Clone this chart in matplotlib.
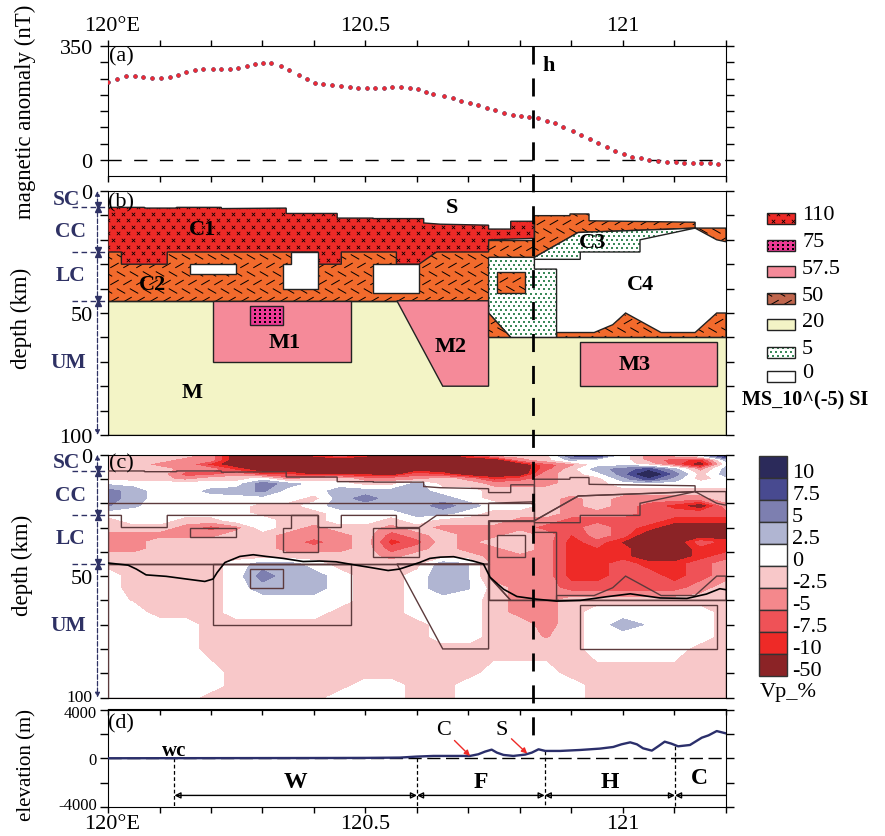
import numpy as np
import matplotlib
matplotlib.use("Agg")
import matplotlib.pyplot as plt
from matplotlib.patches import Polygon, Rectangle
from matplotlib.collections import LineCollection
from matplotlib.transforms import ScaledTranslation

plt.rcParams["font.family"] = ["Liberation Serif", "DejaVu Serif"]

W, H = 885, 837
LEFT, RIGHT = 108, 726
NAVY = "#2E3164"

# (a) magnetic anomaly, lon is degrees east of 120
mag_lon = [0, .017, .034, .052, .068, .086, .102, .120, .136, .152, .169, .185, .204, .220, .236, .252,
           .270, .285, .301, .317, .336, .352, .370, .386, .402, .418, .435, .453, .469, .486, .502, .518,
           .535, .551, .569, .586, .602, .618, .632, .652, .669, .685, .702, .719, .735, .751, .769, .786,
           .802, .818, .834, .852, .868, .884, .902, .918, .935, .951, .968, .985, 1.001, 1.018, 1.034,
           1.051, 1.067, 1.085, 1.102, 1.118, 1.135, 1.151, 1.168, 1.185]
mag_nt = [238, 249, 257, 257, 256, 253, 253, 256, 262, 270, 276, 279, 279, 279, 280, 282,
          290, 295, 299, 298, 288, 276, 261, 247, 237, 232, 230, 227, 225, 222, 220, 220,
          221, 223, 223, 221, 217, 208, 203, 195, 189, 182, 176, 167, 159, 152, 144, 139,
          136, 131, 127, 120, 112, 100, 87, 76, 64, 51, 39, 27, 17, 10, 4,
          -1, -4, -6, -8, -9, -10, -10, -11, -12]

# (b) model blocks, (lon east of 120, depth km)
mantle_block = [(0, 45), (.739, 45), (.739, 60), (1.2, 60), (1.2, 100), (0, 100)]
c2_left = [(0, 20), (.828, 20), (.828, 27.2), (.739, 27.2), (.739, 45), (0, 45)]
c2_right = [(.828, 10.1), (.897, 10.1), (.897, 9.4), (.934, 9.4), (.934, 12.2), (1.14, 12.8), (1.14, 15.2),
            (1.2, 15.2), (1.2, 20.8), (1.182, 20), (1.14, 15.2), (.913, 17), (.828, 27.2)]
c2_lower = [(.871, 60), (.871, 58), (.944, 58), (.98, 54.8), (1.005, 50), (1.074, 58), (1.14, 58),
            (1.182, 50), (1.2, 50), (1.2, 60)]
c2_box = [(.756, 33), (.81, 33), (.81, 42), (.756, 42)]
c2_wedge = [(.739, 50), (.782, 60), (.739, 60)]
c1_block = [(0, 6.7), (.071, 6.7), (.071, 7), (.133, 7), (.133, 6.7), (.22, 6.7), (.22, 7.2), (.346, 7),
            (.346, 9.2), (.445, 9.2), (.445, 11.1), (.515, 11.1), (.515, 11.3), (.613, 11.3), (.613, 13.1),
            (.645, 13.6), (.739, 14), (.739, 15.6), (.782, 15.6), (.782, 12.4), (.828, 12.4), (.828, 19.4),
            (.739, 20), (.739, 25), (.638, 25), (.604, 30), (.56, 30), (.56, 25), (.453, 25), (.453, 30),
            (.408, 30), (.408, 25), (.115, 25), (.115, 30), (.026, 30), (.026, 25), (0, 25)]
hole_a = [(.16, 30), (.249, 30), (.249, 34), (.16, 34)]
hole_b = [(.339, 30), (.356, 30), (.356, 25), (.408, 25), (.408, 40), (.339, 40)]
hole_c = [(.515, 30), (.604, 30), (.604, 42), (.515, 42)]
m1_block = [(.204, 45), (.471, 45), (.471, 70), (.204, 70)]
m1_core = [(.275, 47), (.339, 47), (.339, 55), (.275, 55)]
m2_block = [(.561, 45), (.65, 80), (.739, 80), (.739, 45)]
m3_block = [(.917, 62), (1.183, 62), (1.183, 80), (.917, 80)]
c3_block = [(.828, 27.2), (.913, 17), (1.098, 15.6), (1.14, 15.2), (1.033, 20), (1.033, 25), (.917, 25),
            (.917, 28), (.828, 28)]
dotted_block = [(.739, 27.2), (.828, 27.2), (.828, 32), (.871, 32), (.871, 60), (.782, 60), (.739, 50)]

# (c) velocity perturbation, read on a coarse grid
P, Q = -1.2, 1.2  # -2.5..0 pink, 0..2.5 white
s, m, r, d = -3.7, -6.2, -8.7, -13
L, B, N, K = 3.7, 6.2, 8.7, 13
vp_lon = [i * .05 for i in range(25)]
vp_depth = [0, 2, 4, 6, 8, 10, 12, 15, 18, 21, 24, 27, 30, 33, 36, 39, 42, 45, 50, 55, 60, 65, 70, 75, 80, 90, 95, 100]
vp_grid = [
    [P, P, P, P, s, d, d, d, r, s, r, d, d, d, m, P, P, P, N, K, Q, s, P, L, K],
    [P, P, P, s, s, d, d, d, d, d, d, d, d, d, d, d, s, P, L, Q, Q, s, m, r, L],
    [P, P, s, s, r, d, d, d, d, d, d, d, d, d, d, d, d, m, s, Q, Q, P, m, d, Q],
    [P, P, P, s, s, r, d, d, d, d, d, d, d, d, d, d, d, m, P, L, B, N, L, s, L],
    [P, P, P, m, m, s, -8, -8, -11, -10, -11, d, m, r, d, d, d, s, P, Q, B, K, B, P, L],
    [P, P, P, s, P, P, Q, s, P, P, s, s, s, P, s, r, m, s, P, P, L, N, L, P, Q],
    [2, 1.6, Q, Q, Q, Q, 6.5, L, Q, Q, P, P, L, P, P, s, s, s, P, P, Q, Q, Q, Q, Q],
    [B, L, Q, Q, 3.1, L, 5.5, Q, Q, L, L, L, L, Q, Q, P, P, P, P, P, P, P, P, P, P],
    [B, L, Q, Q, Q, Q, Q, Q, P, L, B, L, L, L, Q, P, P, P, s, P, s, s, s, s, P],
    [5.2, 2.9, Q, Q, Q, Q, P, P, Q, L, L, L, L, B, L, Q, Q, P, s, P, s, m, r, d, s],
    [Q, Q, Q, Q, Q, Q, P, P, P, Q, Q, Q, L, L, Q, P, P, P, s, s, s, m, m, m, m],
    [P, Q, Q, P, P, Q, Q, P, P, Q, Q, P, Q, P, P, P, s, s, m, m, m, m, r, r, r],
    [P, P, P, s, m, s, Q, P, s, P, P, s, P, s, s, s, s, m, m, s, m, r, d, d, d],
    [s, s, s, s, s, P, P, s, s, s, P, m, s, P, s, s, P, s, -7.6, s, m, d, d, d, d],
    [s, s, P, P, P, P, P, s, m, s, P, r, m, P, s, P, P, s, r, m, -10.5, d, d, m, r],
    [s, s, P, P, P, P, P, s, s, s, P, m, s, P, s, s, P, s, r, -8, r, d, d, r, r],
    [P, P, P, P, P, P, P, P, P, P, P, s, P, P, P, s, s, s, r, r, r, d, d, r, m],
    [P, P, P, P, P, Q, L, L, Q, P, P, P, P, 4, 2.6, s, s, s, r, r, m, r, r, m, s],
    [Q, P, P, P, P, Q, B, L, L, Q, P, P, Q, 4, 2.6, s, s, s, r, r, m, m, r, m, s],
    [Q, P, P, P, P, Q, L, L, L, Q, P, P, Q, 4, 2.6, P, s, s, m, m, m, m, m, s, P],
    [Q, -.3, P, P, P, Q, Q, Q, Q, Q, P, P, Q, Q, Q, P, s, s, P, P, P, P, P, P, P],
    [Q, Q, P, P, P, Q, Q, Q, Q, P, P, P, Q, Q, Q, P, s, s, P, Q, Q, Q, Q, Q, P],
    [Q, Q, Q, Q, P, P, P, P, P, P, P, P, P, Q, Q, P, P, s, P, Q, L, 2.2, Q, Q, P],
    [Q, Q, Q, Q, P, P, P, P, P, P, P, P, P, Q, Q, P, P, -2.8, P, Q, Q, Q, Q, Q, P],
    [Q, Q, Q, Q, P, P, P, P, P, P, P, P, P, P, P, P, P, P, P, Q, Q, Q, Q, P, P],
    [Q, Q, Q, Q, Q, P, P, P, P, P, P, P, P, P, P, Q, Q, Q, P, P, P, P, P, P, P],
    [Q, Q, Q, Q, Q, P, P, P, P, P, Q, Q, P, P, Q, Q, Q, Q, Q, P, P, P, P, P, P],
    [Q, Q, Q, Q, P, P, P, P, P, Q, Q, Q, P, P, Q, Q, Q, Q, Q, P, P, P, P, P, P],
]
vp_levels = [-50, -10, -7.5, -5, -2.5, 0, 2.5, 5, 7.5, 10, 50]
vp_colors = ["#8B2326", "#EE2A27", "#EF5257", "#F4888C", "#F8C8C9", "#FFFFFF", "#B0B5D2", "#7D7FB0", "#484A90", "#2B2A5A"]
vp_labels = ["10", "7.5", "5", "2.5", "0", "-2.5", "-5", "-7.5", "-10", "-50"]

moho_lon = [0, .039, .055, .074, .113, .152, .188, .204, .212, .227, .256, .282, .307, .34, .379, .411, .443, .476,
            .508, .544, .566, .605, .625, .645, .671, .709, .729, .742, .768, .794, .832, .871, .917, .968, 1.014,
            1.072, 1.124, 1.162, 1.188, 1.2]
moho_dep = [44.6, 45.5, 47.1, 49.5, 50.1, 51.2, 52.2, 51.2, 48.5, 44.4, 41.9, 41.2, 41.9, 42.7, 44, 43.8, 44.1, 45.3,
            46.4, 47.7, 47.1, 44.4, 42.7, 42.2, 42, 43.8, 45, 50.5, 55.4, 58.4, 59.5, 60.3, 60, 58.5, 57.3,
            59, 59.2, 57.4, 55.2, 55.6]

# (d) elevation
elev_lon = [0, .2, .4, .5, .567, .599, .632, .664, .703, .719, .732, .745, .755, .768, .787, .81, .823, .836, .849,
            .878, .917, .955, .981, .997, 1.014, 1.027, 1.039, 1.056, 1.069, 1.081, 1.094, 1.107, 1.13, 1.153,
            1.166, 1.182, 1.2]
elev_m = [0, 10, 20, 30, 54, 136, 190, 190, 190, 327, 544, 707, 463, 272, 190, 300, 463, 735, 600,
          600, 680, 790, 925, 1143, 1306, 1143, 816, 626, 1000, 1360, 1197, 980, 1088, 1687,
          1877, 2231, 2040]
zone_edges = [.129, .6, .848, 1.101, 1.2]
zone_tops = [0, 0, 600, 1000]
zone_names = ["W", "F", "H", "C"]

# legend of the model panel
ms_values = ["110", "75", "57.5", "50", "20", "5", "0"]
ms_colors = ["#EE2A27", "#EC3A95", "#F58A99", "#C0664D", "#F3F4C6", "#FFFFFF", "#FFFFFF"]
ms_patterns = ["cross", "dots", None, "dash", None, "green", None]

fig = plt.figure(figsize=(W / 100, H / 100), dpi=100)


def axes_px(top, bottom):
    return fig.add_axes([LEFT / W, 1 - bottom / H, (RIGHT - LEFT) / W, (bottom - top) / H])


def lon_abs(values):
    return [120 + v for v in values]


def poly_abs(verts):
    return [(120 + a, b) for a, b in verts]


def nudge(label, dx, dy):
    # shift one tick label by some pixels, up is positive
    label.set_transform(label.get_transform() + ScaledTranslation(dx / 100, dy / 100, fig.dpi_scale_trans))


def add_pattern(ax, patch, kind, box, sx, sy):
    # sx, sy are data units per pixel
    x0, x1, y0, y1 = box
    if kind == "cross":
        xs, ys = [], []
        for row, y in enumerate(np.arange(y0, y1, 6.5 * sy)):
            xs += list(np.arange(x0 + (row % 2) * 5 * sx, x1, 10 * sx))
            ys += [y] * (len(xs) - len(ys))
        art = ax.scatter(xs, ys, marker="x", s=6, c="black", linewidths=.55, zorder=patch.get_zorder())
    elif kind == "dots":
        xs, ys = [], []
        for y in np.arange(y0, y1, 4 * sy):
            xs += list(np.arange(x0, x1, 5 * sx))
            ys += [y] * (len(xs) - len(ys))
        art = ax.scatter(xs, ys, marker="s", s=1, c="black", linewidths=0, zorder=patch.get_zorder())
    elif kind == "green":
        xs, ys = [], []
        for row, y in enumerate(np.arange(y0, y1, 4 * sy)):
            xs += list(np.arange(x0 + (row % 2) * 2.5 * sx, x1, 5 * sx))
            ys += [y] * (len(xs) - len(ys))
        art = ax.scatter(xs, ys, marker="s", s=1.2, c="#3C8A5A", linewidths=0, zorder=patch.get_zorder())
    else:
        segs = []
        for row, y in enumerate(np.arange(y0, y1, 8.5 * sy)):
            sign = 1 if row % 2 else -1
            for x in np.arange(x0 + (row % 2) * 6.5 * sx, x1, 13 * sx):
                segs.append([(x - 4.2 * sx, y + sign * 2.4 * sy), (x + 4.2 * sx, y - sign * 2.4 * sy)])
        art = LineCollection(segs, colors="black", linewidths=.7, zorder=patch.get_zorder())
        ax.add_collection(art)
    art.set_clip_path(patch)


def add_block(ax, verts, color, kind=None, z=2):
    pts = poly_abs(verts)
    patch = Polygon(pts, closed=True, facecolor=color, edgecolor="none", zorder=z)
    ax.add_patch(patch)
    if kind:
        xa = [p[0] for p in pts]
        ya = [p[1] for p in pts]
        box = (min(xa), max(xa) + .01, min(ya), max(ya) + 2)
        add_pattern(ax, patch, kind, box, 1 / 515, 1 / 2.43)
    ax.add_patch(Polygon(pts, closed=True, fill=False, edgecolor="#222222", linewidth=1, zorder=z + .1))


def depth_axis(ax):
    ax.set_xlim(120, 121.2)
    ax.set_ylim(100, 0)
    ax.set_xticks([])
    ax.set_yticks(np.arange(0, 101, 10))
    ax.set_yticklabels(["0", "", "", "", "", "50", "", "", "", "", "100"])
    ax.tick_params(axis="y", left=True, right=True, length=6, width=1, labelsize=16, pad=5)


def side_notes(ax, size):
    # crustal layers marked to the left of the depth axes
    tr = ax.get_yaxis_transform()
    xa = -10.5 / (RIGHT - LEFT)
    ax.annotate("", xy=(xa, 100), xytext=(xa, 0), xycoords=tr, textcoords=tr, annotation_clip=False,
                arrowprops=dict(arrowstyle="<|-|>", color=NAVY, ls="--", lw=.9, shrinkA=0, shrinkB=0, mutation_scale=7))
    for dep in [6.7, 25, 45]:
        ax.plot([-36 / 618, 0], [dep, dep], transform=tr, clip_on=False, color=NAVY, ls=(0, (4, 2.5)), lw=1, zorder=1)
        ax.plot([xa], [dep - .8], transform=tr, clip_on=False, marker="v", ms=4, color=NAVY, zorder=5)
        ax.plot([xa], [dep + .8], transform=tr, clip_on=False, marker="^", ms=4, color=NAVY, zorder=5)
    for name, dep, xp in [("SC", 3.2, 66), ("CC", 16.5, 70), ("LC", 34.5, 71), ("UM", 70, 68)]:
        ax.text((xp - LEFT) / 618, dep, name, transform=tr, color=NAVY, fontsize=size, fontweight="bold",
                ha="center", va="center", clip_on=False)


# panel a
ax_a = axes_px(47, 177)
ax_a.plot(lon_abs(mag_lon), mag_nt, color=NAVY, ls="none", marker="o", ms=2.2, zorder=3)
ax_a.plot(lon_abs(mag_lon), mag_nt, color="#EE2A35", ls="none", marker="o", ms=1.9, zorder=4)
ax_a.axhline(0, color="black", lw=1, ls=(0, (9.5, 9)))
ax_a.set_xlim(120, 121.2)
ax_a.set_ylim(-50, 350)
ax_a.set_yticks(np.arange(0, 351, 50))
ax_a.set_yticklabels(["0", "", "", "", "", "", "", "350"])
ax_a.set_xticks(np.arange(120, 121.21, .1))
ax_a.set_xticklabels(["120°E", "", "", "", "", "120.5", "", "", "", "", "121", "", ""])
ax_a.tick_params(axis="x", top=True, bottom=True, labeltop=True, labelbottom=False, length=4, width=1, labelsize=16, pad=4)
ax_a.tick_params(axis="y", left=True, right=True, length=6, width=1, labelsize=16, pad=5)
nudge(ax_a.xaxis.get_major_ticks()[0].label2, 4, 0)

# panel b
ax_b = axes_px(192, 436)
depth_axis(ax_b)
add_block(ax_b, mantle_block, "#F3F4C6")
add_block(ax_b, c2_left, "#F26A2C", "dash")
add_block(ax_b, c1_block, "#EE2A27", "cross", z=3)
for hole in [hole_a, hole_b, hole_c]:
    add_block(ax_b, hole, "white", z=4)
add_block(ax_b, dotted_block, "#FFFFFF", "green", z=3)
add_block(ax_b, c2_right, "#F26A2C", "dash", z=3)
add_block(ax_b, c2_lower, "#F26A2C", "dash", z=3)
add_block(ax_b, c2_box, "#F26A2C", "dash", z=4)
add_block(ax_b, c2_wedge, "#F26A2C", "dash", z=4)
add_block(ax_b, c3_block, "#FFFFFF", "green", z=4)
add_block(ax_b, m1_block, "#F58A99", z=3)
add_block(ax_b, m1_core, "#EC3A95", "dots", z=4)
add_block(ax_b, m2_block, "#F58A99", z=3)
add_block(ax_b, m3_block, "#F58A99", z=3)
side_notes(ax_b, 15.5)

# panel c
ax_c = axes_px(455.7, 698.5)
depth_axis(ax_c)
ax_c.contourf(lon_abs(vp_lon), vp_depth, vp_grid, levels=vp_levels, colors=vp_colors, zorder=1)
for verts in [mantle_block, c2_left, c2_right, c2_lower, c2_box, c2_wedge, c1_block, hole_a, hole_b, hole_c,
              dotted_block, c3_block, m1_block, m1_core, m2_block, m3_block]:
    ax_c.add_patch(Polygon(poly_abs(verts), closed=True, fill=False, edgecolor="#5C3A3C", linewidth=1, zorder=3))
ax_c.plot(lon_abs(moho_lon), moho_dep, color="black", lw=1.2, zorder=4)
ax_c.get_yticklabels()[-1].set_fontsize(12.5)
nudge(ax_c.get_yticklabels()[-1], 0, 2)
side_notes(ax_c, 15.5)

# panel d
ax_d = axes_px(710.5, 808)
ax_d.set_xlim(120, 121.2)
ax_d.set_ylim(-4000, 4000)
ax_d.axhline(0, color="black", lw=1, ls=(0, (9.5, 4)))
ax_d.plot(lon_abs(elev_lon), elev_m, color="#2B2F6B", lw=1.7, zorder=3)
ax_d.set_xticks(np.arange(120, 121.21, .1))
ax_d.set_xticklabels(["120°E", "", "", "", "", "120.5", "", "", "", "", "121", "", ""])
ax_d.set_yticks([-4000, -2000, 0, 2000, 4000])
ax_d.set_yticklabels(["-4000", "", "0", "", "4000"])
ax_d.tick_params(axis="x", bottom=True, length=4, width=1, labelsize=16, pad=1)
ax_d.tick_params(axis="y", left=True, right=True, length=6, width=1, labelsize=12, pad=2)
nudge(ax_d.get_xticklabels()[0], 4, 0)
nudge(ax_d.get_yticklabels()[0], 0, 4)
nudge(ax_d.get_yticklabels()[4], 0, -2)
top_d = ax_d.secondary_xaxis("top")
top_d.set_xticks(np.arange(120, 121.21, .1))
top_d.tick_params(axis="x", direction="in", length=4, width=1, labeltop=False)
for lon, top in zip(zone_edges[:4], zone_tops):
    ax_d.plot([120 + lon, 120 + lon], [top, -4000], color="black", lw=.9, ls=(0, (3, 2)), zorder=2)
for i, name in enumerate(zone_names):
    ax_d.annotate("", xy=(120 + zone_edges[i + 1], -3050), xytext=(120 + zone_edges[i], -3050),
                  arrowprops=dict(arrowstyle="<|-|>" if i < 3 else "<|-", color="black", fill=False, lw=1,
                                  shrinkA=0, shrinkB=0, mutation_scale=9))
    ax_d.text(120 + (zone_edges[i] + zone_edges[i + 1]) / 2 + (.0 if i < 3 else -.002), -1900 if i < 3 else -1600,
              name, fontsize=17, fontweight="bold", ha="center", va="center")
ax_d.text(120.129, 700, "wc", fontsize=15, fontweight="bold", ha="center", va="center")
ax_d.annotate("C", xy=(120.703, 190), xytext=(120.651, 2367), fontsize=16, ha="center", va="center",
              arrowprops=dict(arrowstyle="-|>", color="#EE2A27", lw=1, shrinkA=1, shrinkB=0, mutation_scale=8))
ax_d.annotate("S", xy=(120.814, 380), xytext=(120.764, 2367), fontsize=16, ha="center", va="center",
              arrowprops=dict(arrowstyle="-|>", color="#EE2A27", lw=1, shrinkA=1, shrinkB=0, mutation_scale=8))

# overlay in picture pixels for labels, legends and the h line
ov = fig.add_axes([0, 0, 1, 1], zorder=10)
ov.set_xlim(0, W)
ov.set_ylim(H, 0)
ov.axis("off")
ov.patch.set_alpha(0)

ov.plot([533, 533], [47, 742], color="black", lw=2, ls=(0, (6.5, 5)), dash_capstyle="butt", zorder=8)

for xp, yp, txt in [(121, 57, "(a)"), (121, 203, "(b)"), (121, 464, "(c)"), (121, 724, "(d)")]:
    ov.text(xp, yp, txt, fontsize=16, ha="center", va="center")
for xp, yp, txt in [(549, 66, "h"), (452, 208, "S"), (203, 230, "C1"), (153, 285, "C2"), (285, 343, "M1"),
                    (192, 393, "M"), (451, 347, "M2"), (593, 243, "C3"), (640, 285, "C4"), (635, 365, "M3")]:
    ov.text(xp, yp, txt, fontsize=16, fontweight="bold", ha="center", va="center", zorder=9)

ov.text(25, 112, "magnetic anomaly (nT)", fontsize=16.5, rotation=90, ha="center", va="center")
ov.text(21, 318, "depth (km)", fontsize=16.5, rotation=90, ha="center", va="center")
ov.text(22, 565, "depth (km)", fontsize=16.5, rotation=90, ha="center", va="center")
ov.text(27, 765, "elevation (m)", fontsize=15, rotation=90, ha="center", va="center")

legend_tops = [214, 241, 267, 294, 320, 348, 372]
legend_text_y = [215, 242, 269, 296, 322, 349, 373]
for top, ty, val, col, kind in zip(legend_tops, legend_text_y, ms_values, ms_colors, ms_patterns):
    box = Rectangle((767, top), 28, 10.5, facecolor=col, edgecolor="none", zorder=3)
    ov.add_patch(box)
    if kind:
        add_pattern(ov, box, kind, (768, 795, top + 1, top + 11), 1, 1)
    ov.add_patch(Rectangle((767, top), 28, 10.5, fill=False, edgecolor="#222222", lw=1, zorder=4))
    ov.text(802, ty, val, fontsize=16, ha="left", va="center")
ov.text(742, 400, "MS_10^(-5) SI", fontsize=14.5, fontweight="bold", ha="left", va="center")

for i, (col, lab) in enumerate(zip(vp_colors[::-1], vp_labels)):
    ov.add_patch(Rectangle((759, 457 + 22 * i), 27.5, 22, facecolor=col, edgecolor="#333333", lw=1))
    ov.text(792, 473 + 22 * i, lab, fontsize=16, ha="left", va="center")
ov.text(760, 692, "Vp_%", fontsize=16, ha="left", va="center")

fig.savefig("out.png", dpi=100)
